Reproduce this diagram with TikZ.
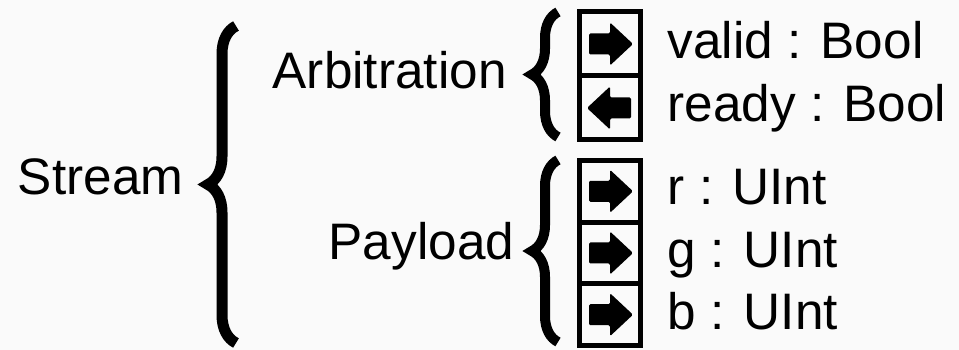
\documentclass[tikz,border=0pt]{standalone}
\usepackage{fontspec}
\setmainfont{Liberation Sans}
\usetikzlibrary{decorations.pathreplacing}
\definecolor{paper}{RGB}{250,250,250}
\tikzset{
  label/.style={inner sep=0pt, font=\fontsize{14.6}{17}\selectfont},
  cellbox/.style={draw, line width=0.05cm, minimum width=0.61cm, inner sep=0pt},
  bigbrace/.style={decorate, decoration={brace, amplitude=#1}, line width=0.1cm}
}
\begin{document}
\begin{tikzpicture}
\fill[paper] (0,0) rectangle (9.59,-3.50);
\useasboundingbox (0,0) rectangle (9.59,-3.50);

% Group names
\node[label, anchor=base east] (stream) at (1.84,-1.95) {Stream};
\node[label, anchor=base west] (arb) at (2.72,-0.89) {Arbitration};
\node[label, anchor=base west] (pay) at (3.28,-2.60) {Payload};

% Braces
\draw[bigbrace=0.28cm, line width=0.11cm] (2.36,-3.43) -- (2.36,-0.26);
\draw[bigbrace=0.26cm] (5.58,-1.37) -- (5.58,-0.12);
\draw[bigbrace=0.26cm] (5.58,-3.42) -- (5.58,-1.60);

% Signal cells
\node[cellbox, minimum height=0.64cm] (valid) at (6.10,-0.44) {};
\node[cellbox, minimum height=0.64cm] (ready) at (6.10,-1.08) {};
\node[cellbox, minimum height=0.617cm] (r) at (6.10,-1.913) {};
\node[cellbox, minimum height=0.617cm] (g) at (6.10,-2.53) {};
\node[cellbox, minimum height=0.617cm] (b) at (6.10,-3.147) {};

% Direction arrows
\foreach \cell/\dir in {valid/1, ready/-1, r/1, g/1, b/1}
  \fill[shift={(\cell.center)}, xscale=\dir, rounded corners=0.4pt]
    (-0.21,0.105) -- (0,0.105) -- (0,0.215) -- (0.23,0) -- (0,-0.215) -- (0,-0.105) -- (-0.21,-0.105) -- cycle;

% Signal names
\node[label, anchor=base west] (validname) at (6.67,-0.59) {valid : Bool};
\node[label, anchor=base west] (readyname) at (6.67,-1.22) {ready : Bool};
\node[label, anchor=base west] (rname) at (6.67,-2.05) {r : UInt};
\node[label, anchor=base west] (gname) at (6.67,-2.68) {g : UInt};
\node[label, anchor=base west] (bname) at (6.67,-3.30) {b : UInt};
\end{tikzpicture}
\end{document}
